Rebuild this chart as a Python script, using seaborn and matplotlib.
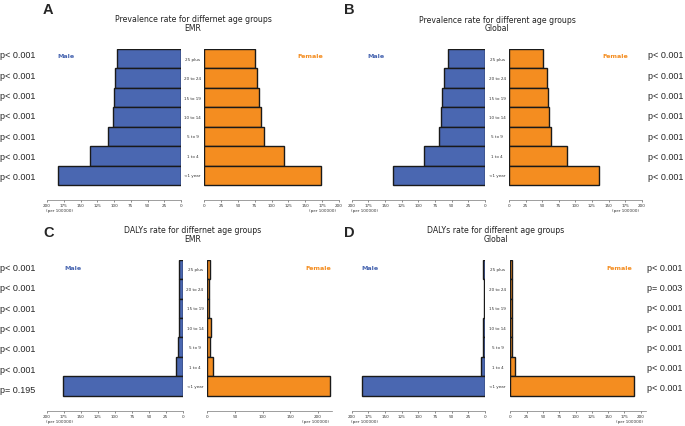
import numpy as np
import pandas as pd
import seaborn as sns
import matplotlib.pyplot as plt

# age groups, top to bottom
ages = ["25 plus", "20 to 24", "15 to 19", "10 to 14", "5 to 9", "1 to 4", "<1 year"]

# rates per 100000
prev_emr_male = [95.5, 98, 99.5, 101.5, 108.5, 136, 183]
prev_emr_female = [76, 79, 81.5, 84, 89, 118.5, 174]
prev_glob_male = [55, 61.5, 64, 66, 69, 91, 138]
prev_glob_female = [51, 58, 59, 60.5, 63.5, 87, 136]
daly_emr_male = [5.5, 5, 5, 5.5, 6.5, 10.5, 176]
daly_emr_female = [4.9, 3, 3.6, 6, 5.4, 10.8, 222]
daly_glob_male = [2.5, 1.5, 2, 2.5, 3, 6, 185]
daly_glob_female = [3, 2.5, 3, 3, 3, 6.7, 189]

# p-values per age group (top to bottom)
p_prev_emr = ["p< 0.001"] * 7
p_prev_glob = ["p< 0.001"] * 7
p_daly_emr = ["p< 0.001"] * 6 + ["p= 0.195"]
p_daly_glob = ["p< 0.001", "p= 0.003", "p< 0.001", "p< 0.001", "p< 0.001", "p< 0.001", "p< 0.001"]

titles = ["Prevalence rate for differnet age groups\nEMR",
          "Prevalence rate for different age groups\nGlobal",
          "DALYs rate for differnet age groups\nEMR",
          "DALYs rate for different age groups\nGlobal"]

BLUE = "#4a67b1"
ORANGE = "#f48d20"
W, H = 685, 427

sns.set_theme(style="white")
plt.rcParams["font.family"] = ["DejaVu Sans"]

fig = plt.figure(figsize=(W / 100, H / 100), dpi=100)


def fx(x):
    return x / W


def fy(y):
    return 1 - y / H


def add_ax(x0, x1, ytop, ybot):
    return fig.add_axes([fx(x0), fy(ybot), (x1 - x0) / W, (ybot - ytop) / H])


def half(ax, values, color, xlim, ticks):
    df = pd.DataFrame({"age": ages, "rate": values})
    sns.barplot(data=df, x="rate", y="age", order=ages, orient="h", ax=ax,
                color=color, width=1.0, edgecolor="#1a1a1a", linewidth=1.0,
                saturation=1)
    ax.set_xlim(*xlim)
    ax.set_ylim(7.27, -0.5)
    ax.set_xlabel("")
    ax.set_ylabel("")
    ax.set_yticks([])
    ax.set_xticks(ticks)
    ax.set_xticklabels([str(t) for t in ticks])
    ax.tick_params(axis="x", labelsize=3, length=1.5, width=0.4, pad=1,
                   colors="#333333", bottom=True)
    for s in ["top", "left", "right"]:
        ax.spines[s].set_visible(False)
    ax.spines["bottom"].set_linewidth(0.5)
    ax.spines["bottom"].set_color("#777777")


def panel(letter, title, male, female, pvals, geo):
    (mx0, mx1, fx0, fx1, ytop, ybot, fxlim, fticks, lx, ly, tcx, tcy,
     male_lab, female_lab, px, prow) = geo
    axm = add_ax(mx0, mx1, ytop, ybot)
    axf = add_ax(fx0, fx1, ytop, ybot)
    half(axm, male, BLUE, (200, 0), list(range(0, 201, 25)))
    half(axf, female, ORANGE, fxlim, fticks)

    # age labels between the two halves
    cx = (mx1 + fx0) / 2
    for i, a in enumerate(ages):
        axf.text((cx - fx0) / (fx1 - fx0), i, a, transform=axf.get_yaxis_transform(),
                 ha="center", va="center", fontsize=3, color="#333333")

    fig.text(fx(mx0 - 1), fy(ybot + 10), "(per 100000)", fontsize=3,
             ha="left", va="center", color="#333333")
    fig.text(fx(fx1 - 3), fy(ybot + 10), "(per 100000)", fontsize=3,
             ha="right", va="center", color="#333333")

    fig.text(fx(lx), fy(ly), letter, fontsize=10.5, fontweight="bold",
             family="Liberation Sans", ha="left", va="center")
    fig.text(fx(tcx), fy(tcy), title, fontsize=5.6, ha="center", va="center",
             linespacing=0.95, color="#222222")
    fig.text(fx(male_lab[0]), fy(male_lab[1]), "Male", fontsize=4.6,
             fontweight="bold", color=BLUE, ha="center", va="center")
    fig.text(fx(female_lab[0]), fy(female_lab[1]), "Female", fontsize=4.6,
             fontweight="bold", color=ORANGE, ha="center", va="center")
    for i, p in enumerate(pvals):
        fig.text(fx(px), fy(prow[0] + i * prow[1]), p, fontsize=6.5,
                 family="Liberation Sans", ha="left", va="center")


ticks200 = list(range(0, 201, 25))
panel("A", titles[0], prev_emr_male, prev_emr_female, p_prev_emr,
      (47, 181, 204, 339, 50, 201, (0, 200), ticks200, 43, 9.5, 193, 24,
       (66, 57), (310.5, 57), 0, (56, 20.3)))
panel("B", titles[1], prev_glob_male, prev_glob_female, p_prev_glob,
      (351.7, 485, 509, 641.7, 50, 201, (0, 200), ticks200, 344, 9.5, 497, 24.5,
       (376.3, 57), (615, 57), 648, (56, 20.3)))
panel("C", titles[2], daly_emr_male, daly_emr_female, p_daly_emr,
      (47, 182.7, 207.3, 331.7, 260.7, 411.7, (0, 225), list(range(0, 201, 50)),
       43, 233.3, 193, 235, (73, 268), (318, 268), 0, (268.3, 20.4)))
panel("D", titles[3], daly_glob_male, daly_glob_female, p_daly_glob,
      (351.7, 485, 510.3, 646, 260.7, 411.7, (0, 208), ticks200,
       343.5, 233.3, 496, 235, (369.7, 268), (619.5, 268), 647, (268.3, 20.1)))

plt.savefig("out.png", dpi=100)
